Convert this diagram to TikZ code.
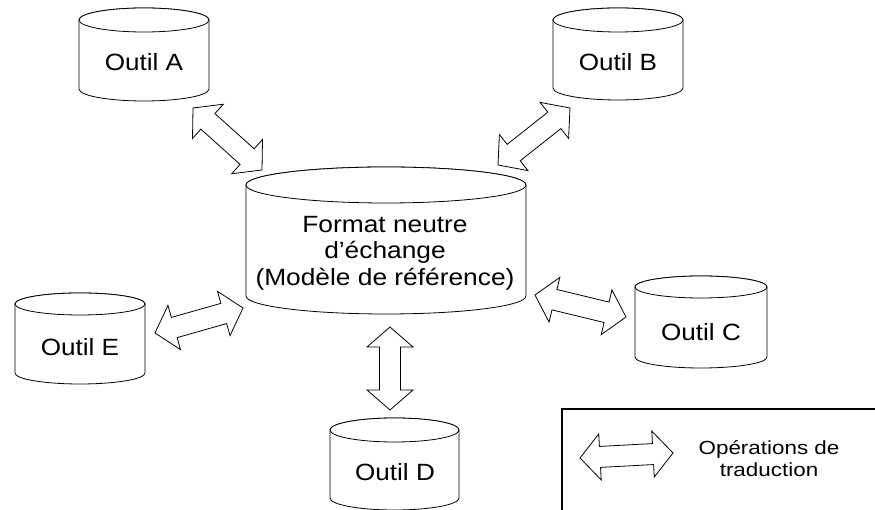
\documentclass[tikz,border=0pt]{standalone}
\usepackage{fontspec}
\setmainfont{Liberation Sans}
\usetikzlibrary{calc}
\tikzset{
  cylline/.style={draw=black, line width=0.8pt, fill=white},
  blockarrow/.style={draw=black, line width=0.8pt, fill=white, line join=miter},
  tooltext/.style={font=\fontsize{23.5}{26}\selectfont, xscale=1.11, inner sep=0pt},
  maintext/.style={font=\fontsize{23.5}{26.5}\selectfont, xscale=1.12, align=center, inner sep=0pt},
  legtext/.style={font=\fontsize{19}{22}\selectfont, xscale=1.18, align=center, inner sep=0pt},
}
% cylinder: #1 left x, #2 right x, #3 top ellipse centre y, #4 bottom ellipse centre y, #5 ry
\newcommand\mycyl[5]{%
  \pgfmathsetmacro\cylcx{(#1+#2)/2}%
  \pgfmathsetmacro\cylrx{(#2-#1)/2}%
  \draw[cylline] (#1,#3) -- (#1,#4) arc[start angle=180, end angle=360, x radius=\cylrx pt, y radius=#5 pt] -- (#2,#3) arc[start angle=0, end angle=180, x radius=\cylrx pt, y radius=#5 pt] -- cycle;
  \draw[cylline] (\cylcx,#3) ellipse [x radius=\cylrx pt, y radius=#5 pt];
}
% double block arrow between two named coordinates
\newcommand\hl{20pt}
\newcommand\hw{23pt}
\newcommand\sw{10.5pt}
\newcommand\dblarrow[2]{%
  \coordinate (q1) at ($(#1)!\hl!(#2)$);
  \coordinate (q2) at ($(#2)!\hl!(#1)$);
  \draw[blockarrow] (#1) -- ($(q1)!\hw!90:(#2)$) -- ($(q1)!\sw!90:(#2)$)
    -- ($(q2)!\sw!-90:(#1)$) -- ($(q2)!\hw!-90:(#1)$) -- (#2)
    -- ($(q2)!\hw!90:(#1)$) -- ($(q2)!\sw!90:(#1)$)
    -- ($(q1)!\sw!-90:(#2)$) -- ($(q1)!\hw!-90:(#2)$) -- cycle;
}
\begin{document}
\begin{tikzpicture}[x=1pt, y=1pt]
\useasboundingbox (0,0) rectangle (875,510);
\fill[white] (0,0) rectangle (875,510);

% cylinders
\mycyl{79}{209}{490}{421}{12}
\mycyl{553}{683}{490}{422}{12}
\mycyl{15}{145}{206}{137}{11}
\mycyl{635}{767}{223}{153}{11}
\mycyl{330}{459}{80}{12}{12}
\mycyl{246}{526}{325}{214}{18}

% texts
\node[tooltext] (A) at (144,448) {Outil A};
\node[tooltext] (B) at (618,448) {Outil B};
\node[tooltext] (E) at (80,163) {Outil E};
\node[tooltext] (C) at (701,178) {Outil C};
\node[tooltext] (D) at (395,38) {Outil D};
\node[maintext] (M) at (385,257) {Format neutre\\d’échange\\(Modèle de référence)};

% arrow end points
\coordinate (a1) at (193,402); \coordinate (a2) at (262,340);
\coordinate (b1) at (498,345); \coordinate (b2) at (570,402);
\coordinate (e1) at (155,177); \coordinate (e2) at (243,202);
\coordinate (c1) at (535,215); \coordinate (c2) at (626,193);
\coordinate (d1) at (390,183); \coordinate (d2) at (390,100);
\coordinate (l1) at (580,52);  \coordinate (l2) at (673,57);

\dblarrow{a1}{a2}
\dblarrow{b1}{b2}
\dblarrow{e1}{e2}
\dblarrow{c1}{c2}
\dblarrow{d1}{d2}

% legend
\draw[line width=1.1pt] (876,101) -- (562,101) -- (562,-2);
\dblarrow{l1}{l2}
\node[legtext] (L) at (769,51) {Opérations de\\traduction};
\end{tikzpicture}
\end{document}
